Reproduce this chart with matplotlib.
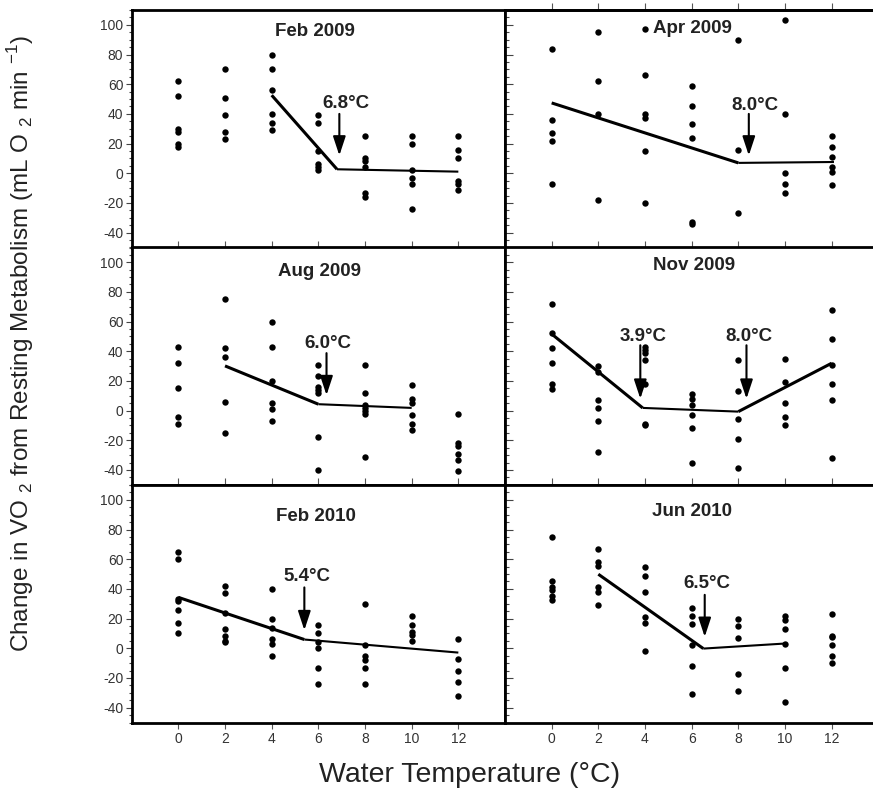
"""
Change in VO2 vs water temperature -- six sampling months, piecewise fits
"""
import matplotlib
matplotlib.use("Agg")
import matplotlib.pyplot as plt
from matplotlib.ticker import MultipleLocator

plt.rcParams['font.family'] = ['Liberation Sans', 'DejaVu Sans']
plt.rcParams['mathtext.fontset'] = 'custom'
plt.rcParams['mathtext.rm'] = 'Liberation Sans'
plt.rcParams['axes.unicode_minus'] = False

# ---------- DATA -----------------------------------------------------------
temps = [0, 2, 4, 6, 8, 10, 12]
titles = ["Feb 2009", "Apr 2009", "Aug 2009", "Nov 2009", "Feb 2010", "Jun 2010"]

feb2009 = [[62, 52, 30, 28, 20, 18],
           [70, 51, 39, 28, 23],
           [80, 70, 56, 40, 34, 29],
           [39, 34, 15, 6, 4, 2],
           [25, 10, 8, 4, -13, -16],
           [25, 20, 2, -3, -7, -24],
           [25, 16, 10, -5, -7, -11]]
apr2009 = [[84, 36, 27, 22, -7],
           [95, 62, 40, -18],
           [97, 66, 40, 37, 15, -20],
           [59, 45, 33, 24, -33, -34],
           [90, 16, -27],
           [103, 40, 0, -7, -13],
           [25, 18, 11, 4, 1, -8]]
aug2009 = [[43, 32, 15, -4, -9],
           [75, 42, 36, 6, -15],
           [60, 43, 20, 5, 1, -7],
           [31, 23, 16, 14, 12, -18, -40],
           [31, 12, 4, 2, 0, -2, -31],
           [17, 8, 5, -3, -9, -13],
           [-2, -22, -24, -29, -33, -41]]
nov2009 = [[72, 52, 42, 32, 18, 14.5],
           [30, 26, 7, 2, -7, -28],
           [43, 41, 39, 34, 18, -9, -10],
           [11, 8, 4, -3, -12, -35],
           [34, 13, -6, -19, -39],
           [35, 19, 5, -4, -10],
           [68, 48, 31, 18, 7, -32]]
feb2010 = [[65, 60, 33, 32, 26, 17, 10],
           [42, 37, 24, 13, 8, 5, 4],
           [40, 20, 14, 6, 3, -5],
           [16, 10, 4, 0, -13, -24],
           [30, 2, -5, -8, -13, -24],
           [22, 16, 11, 9, 5],
           [6, -7, -15, -23, -32]]
jun2010 = [[75, 45, 41, 39, 35, 32.5],
           [67, 58, 55.5, 41.5, 38, 29],
           [55, 49, 38, 21, 17, -2],
           [27, 22, 16.5, 2, -12, -31],
           [20, 15, 7, -17, -29],
           [22, 19, 13, 3, -13, -36],
           [23, 8.5, 7.5, 2, -5, -10]]
points = [feb2009, apr2009, aug2009, nov2009, feb2010, jun2010]

# piecewise regression fits (vertices)
fit_x = [[4, 6.8, 12], [0, 8.0, 12.1], [2, 6.0, 10],
         [0, 3.9, 8.0, 12], [0, 5.4, 12], [2, 6.5, 10]]
fit_y = [[52.6, 2.7, 1.1], [47.4, 7.0, 7.6], [30.1, 4.3, 1.8],
         [51.6, 1.8, -0.7, 31.9], [34.3, 5.9, -2.9], [49.9, -0.2, 3.2]]

# breakpoint labels
bp_labels = [["6.8°C"], ["8.0°C"], ["6.0°C"], ["3.9°C", "8.0°C"], ["5.4°C"], ["6.5°C"]]

# ---------- LAYOUT ---------------------------------------------------------
W, H = 873, 793
col_left = [131.7, 505.0]
row_top = [10.0, 247.3, 485.0]
pw, ph = 373.3, 237.5

title_pos = [(5.85, 95.7), (6.03, 97.3), (6.04, 94), (6.1, 97.5), (5.9, 88.5), (6.0, 92.3)]
# (arrow x, arrow top, arrow tip, label x, label y)
arrow_pos = [[(6.9, 40, 12, 7.2, 47)],
             [(8.45, 40, 12, 8.7, 46)],
             [(6.35, 38.7, 10.4, 6.4, 45.5)],
             [(3.8, 44, 8, 3.9, 50), (8.35, 44, 8, 8.46, 50)],
             [(5.4, 41, 12.2, 5.5, 48.3)],
             [(6.56, 36, 7.7, 6.67, 43.8)]]

fig = plt.figure(figsize=(W / 100, H / 100), dpi=100)

for i, title in enumerate(titles):
    r, c = divmod(i, 2)
    ax = fig.add_axes([col_left[c] / W, 1 - (row_top[r] + ph) / H, pw / W, ph / H])

    for t, vals in zip(temps, points[i]):
        ax.plot([t] * len(vals), vals, 'o', color='k', ms=4.6, mec='none', zorder=3)

    fx, fy = fit_x[i], fit_y[i]
    for j in range(len(fx) - 1):
        slope = abs((fy[j + 1] - fy[j]) / (fx[j + 1] - fx[j]))
        ax.plot(fx[j:j + 2], fy[j:j + 2], color='k',
                lw=2.2 if slope > 2 else 1.5, solid_capstyle='butt', zorder=4)

    for lab, (axx, top, tip, lx, ly) in zip(bp_labels[i], arrow_pos[i]):
        ax.annotate('', xy=(axx, tip), xytext=(axx, top),
                    arrowprops=dict(arrowstyle='-|>,head_length=1.15,head_width=0.38',
                                    lw=1.5, color='k', shrinkA=0, shrinkB=0,
                                    mutation_scale=10), zorder=5)
        ax.text(lx, ly, lab, ha='center', va='center', fontsize=13.5,
                fontweight='bold', color='#222')

    tx, ty = title_pos[i]
    ax.text(tx, ty, title, ha='center', va='center', fontsize=13.5,
            fontweight='bold', color='#222')

    ax.set_xlim(-2, 14)
    ax.set_ylim(-50, 110)
    ax.set_xticks(temps)
    ax.set_yticks(range(-40, 101, 20))
    ax.yaxis.set_minor_locator(MultipleLocator(5))
    for sp in ax.spines.values():
        sp.set_linewidth(2.0)
    if c == 1:
        ax.spines['right'].set_visible(False)

    if c == 0:
        ax.tick_params(axis='y', which='major', direction='out', length=4, width=0.8,
                       labelsize=10, labelcolor='#333', color='#444', pad=2)
        ax.tick_params(axis='y', which='minor', direction='out', length=2, width=0.8,
                       color='#444')
    else:
        ax.tick_params(axis='y', which='major', direction='in', length=6, width=0.8,
                       labelleft=False, color='#444')
        ax.tick_params(axis='y', which='minor', direction='in', length=3, width=0.8,
                       color='#444')

    if r < 2:
        ax.tick_params(axis='x', direction='inout', length=10, width=0.8,
                       labelbottom=False, color='#555')
    else:
        ax.tick_params(axis='x', direction='out', length=4, width=0.8,
                       labelsize=10, labelcolor='#333', color='#555', pad=3)

    if r == 0 and c == 1:
        sec = ax.secondary_xaxis('top')
        sec.set_xticks(temps)
        sec.tick_params(direction='out', length=5, width=0.8, labeltop=False, color='#555')
        sec.spines['top'].set_linewidth(2.0)

fig.text(0.538, 0.023, "Water Temperature (°C)", ha='center', va='center',
         fontsize=20.5, color='#222')
fig.text(0.024, 0.567,
         r"Change in VO $_{2}$ from Resting Metabolism (mL O $_{2}$ min $^{-1}$)",
         ha='center', va='center', rotation=90, fontsize=17.5, color='#222')

fig.savefig("out.png", dpi=100)
